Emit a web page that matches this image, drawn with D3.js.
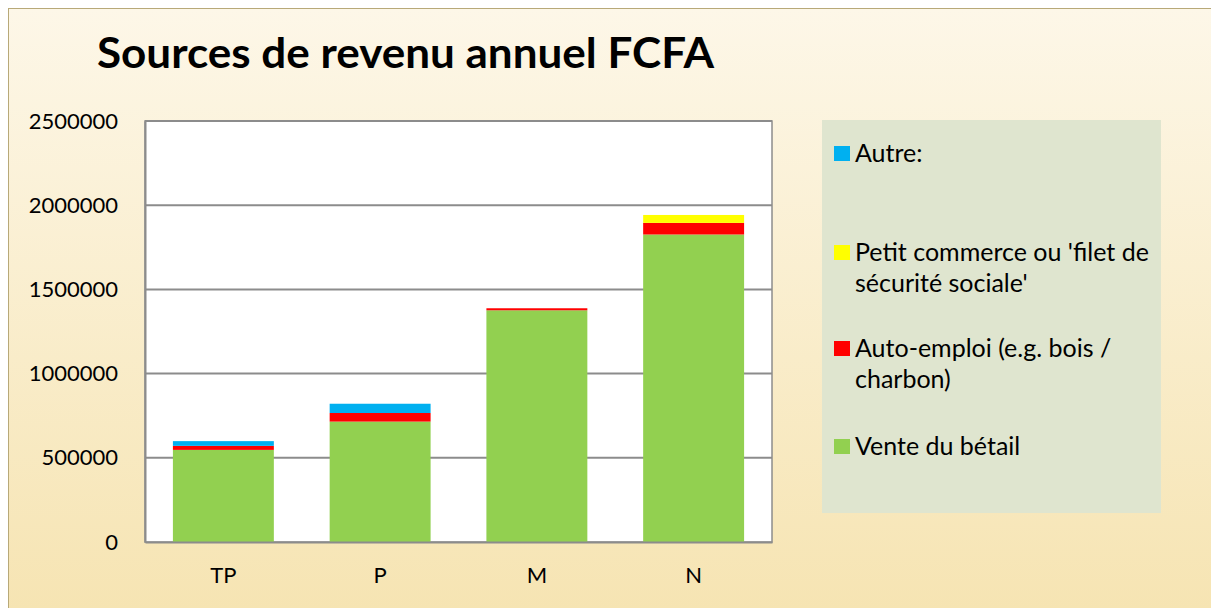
<!DOCTYPE html>
<html>
<head>
<meta charset="utf-8">
<script src="https://cdn.jsdelivr.net/npm/d3@7"></script>
<style>
  body { margin: 0; background: #ffffff; }
  svg { display: block; font-family: Lato, "Open Sans", sans-serif; }
</style>
</head>
<body>
<div id="chart"></div>
<script>
'use strict';

// data
const categories = ['TP', 'P', 'M', 'N'];
const venteBetail = [547000, 715000, 1376000, 1826000];
const autoEmploi = [24000, 51000, 12000, 69000];
const petitCommerce = [0, 0, 0, 47000];
const autre = [28000, 55000, 0, 0];
const yTicks = [0, 500000, 1000000, 1500000, 2000000, 2500000];

const seriesNames = ['Vente du bétail', 'Auto-emploi (e.g. bois / charbon)', "Petit commerce ou 'filet de sécurité sociale'", 'Autre:'];
const seriesValues = [venteBetail, autoEmploi, petitCommerce, autre];
const seriesColors = ['#92d050', '#ff0000', '#ffff00', '#00b0f0'];

const W = 1211, H = 608;
const margin = { top: 121, left: 145, right: 439, bottom: 65 };

let svg = d3.select('#chart').append('svg')
    .attr('width', W)
    .attr('height', H);

let defs = svg.append('defs');
let grad = defs.append('linearGradient')
    .attr('id', 'bg')
    .attr('x1', 0).attr('y1', 0).attr('x2', 0).attr('y2', 1);
grad.append('stop').attr('offset', '0%').attr('stop-color', '#fdf7e8');
grad.append('stop').attr('offset', '100%').attr('stop-color', '#f6e4b2');

// chart area
svg.append('rect')
    .attr('x', 8.5).attr('y', 8.5)
    .attr('width', W).attr('height', H)
    .attr('fill', 'url(#bg)')
    .attr('stroke', '#b8a978')
    .attr('stroke-width', 1);

svg.append('text')
    .attr('x', 97)
    .attr('y', 68)
    .attr('font-size', '42px')
    .attr('font-weight', 'bold')
    .attr('fill', '#000')
    .attr('textLength', 617)
    .attr('lengthAdjust', 'spacingAndGlyphs')
    .text('Sources de revenu annuel FCFA');

let width = W - margin.left - margin.right;
let height = H - margin.top - margin.bottom - 1;

let x = d3.scaleBand()
    .domain(categories)
    .range([margin.left, margin.left + width])
    .paddingInner(0.356)
    .paddingOuter(0.178);

let y = d3.scaleLinear()
    .domain([0, 2500000])
    .range([margin.top + height, margin.top]);

// plot area
svg.append('rect')
    .attr('x', margin.left).attr('y', margin.top)
    .attr('width', width).attr('height', height)
    .attr('fill', '#fff')
    .attr('stroke', '#8c8c8c')
    .attr('stroke-width', 1.5);

svg.append('g')
    .selectAll('line')
    .data(yTicks.slice(1))
    .enter().append('line')
    .attr('x1', margin.left).attr('x2', margin.left + width)
    .attr('y1', d => y(d)).attr('y2', d => y(d))
    .attr('stroke', '#8c8c8c')
    .attr('stroke-width', 2);

// stacked bars
let rows = categories.map((c, i) => {
    let row = { cat: c };
    seriesNames.forEach((s, j) => { row[s] = seriesValues[j][i]; });
    return row;
});
let stacked = d3.stack().keys(seriesNames)(rows);

svg.append('g')
    .selectAll('g')
    .data(stacked)
    .enter().append('g')
    .attr('fill', (d, i) => seriesColors[i])
    .selectAll('rect')
    .data(d => d)
    .enter().append('rect')
    .attr('x', d => x(d.data.cat))
    .attr('width', x.bandwidth())
    .attr('y', d => y(d[1]))
    .attr('height', d => y(d[0]) - y(d[1]));

// axes
let yAxis = svg.append('g')
    .attr('transform', 'translate(' + margin.left + ',0)')
    .call(d3.axisLeft(y).tickValues(yTicks).tickFormat(d3.format('d')).tickSize(0).tickPadding(27));
yAxis.select('.domain').attr('stroke', '#8c8c8c').attr('stroke-width', 2);
yAxis.selectAll('text').attr('font-size', '22px').attr('fill', '#000').attr('font-family', 'Lato, sans-serif');

let xAxis = svg.append('g')
    .attr('transform', 'translate(0,' + (margin.top + height) + ')')
    .call(d3.axisBottom(x).tickSize(0).tickPadding(25));
xAxis.select('.domain').attr('stroke', '#8c8c8c').attr('stroke-width', 2);
xAxis.selectAll('text').attr('font-size', '22px').attr('fill', '#000').attr('font-family', 'Lato, sans-serif');

// legend
let legend = svg.append('g');
legend.append('rect')
    .attr('x', 822).attr('y', 120)
    .attr('width', 339).attr('height', 393)
    .attr('fill', '#dfe5cf');

let legendItems = [
    { color: seriesColors[3], lines: ['Autre:'], y: 153 },
    { color: seriesColors[2], lines: ["Petit commerce ou 'filet de", "sécurité sociale'"], y: 252 },
    { color: seriesColors[1], lines: ['Auto-emploi (e.g. bois /', 'charbon)'], y: 348 },
    { color: seriesColors[0], lines: ['Vente du bétail'], y: 446 }
];

legendItems.forEach(item => {
    legend.append('rect')
        .attr('x', 834).attr('y', item.y - 7)
        .attr('width', 16).attr('height', 15)
        .attr('fill', item.color);
    item.lines.forEach((l, k) => {
        legend.append('text')
            .attr('x', 855)
            .attr('y', item.y + 31 * k)
            .attr('dy', '0.35em')
            .attr('font-size', '25px')
            .attr('fill', '#000')
            .text(l);
    });
});
</script>
</body>
</html>
